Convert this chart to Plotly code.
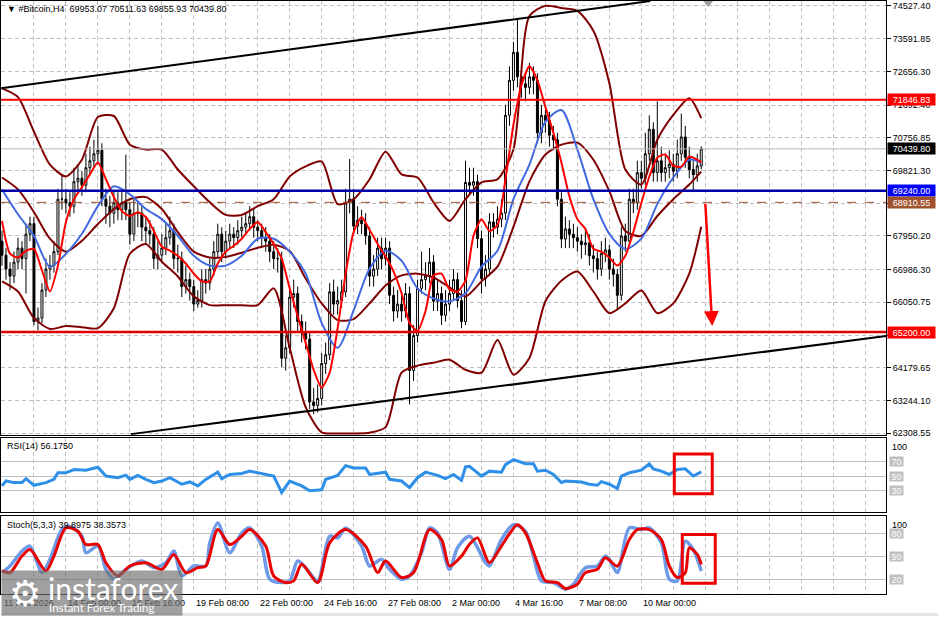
import plotly.graph_objects as go

# ---------------- DATA ----------------
bars = list(range(176))

opens = [67800, 67400, 67000, 66800, 67200, 67600, 67300, 68000,
         68300, 65500, 65600, 66400, 67000, 67100, 67500, 69000,
         69000, 68900, 68800, 69500, 69600, 69400, 69900, 70100,
         70300, 70400, 69000, 68800, 68600, 68900, 68700, 68900,
         68700, 68000, 68600, 68600, 68200, 68100, 68000, 67300,
         67400, 67600, 67900, 68100, 67300, 67300, 66500, 66700,
         66500, 66000, 66100, 66700, 66600, 67000, 67500, 68000,
         67500, 67800, 68000, 67900, 68100, 68200, 68300, 68500,
         68200, 68100, 67900, 67800, 67500, 67300, 67300, 64450,
         64750, 66200, 66300, 65500, 65200, 65000, 63200, 63100,
         63300, 64300, 64550, 66350, 66000, 66100, 66350, 68900,
         69000, 68230, 68400, 68300, 67950, 66800, 67000, 67600,
         67300, 67600, 66250, 65800, 66000, 65800, 66300, 64100,
         65100, 66450, 66700, 66800, 67200, 66080, 66300, 65680,
         66000, 66300, 66700, 66100, 65500, 69480, 69400, 69500,
         67870, 66730, 67000, 68350, 68200, 68430, 68600, 71400,
         72400, 73200, 72500, 72300, 72200, 72500, 72400, 70900,
         71400, 71250, 70830, 70700, 69000, 67860, 68150, 68000,
         67900, 67800, 67700, 67750, 67380, 67300, 67000, 67450,
         67550, 67000, 66850, 66250, 67950, 67800, 69000, 68900,
         69760, 69600, 70300, 71000, 69760, 70100, 69760, 69900,
         70000, 69800, 70300, 70780, 70200, 69850, 69700, 69953.07]

highs = [68100, 67600, 67200, 67500, 67900, 67800, 68300, 68500,
         68500, 65900, 66600, 67300, 67400, 67800, 69300, 69700,
         69300, 69200, 69900, 70000, 69800, 70300, 70500, 70700,
         71100, 70600, 69300, 69100, 69200, 69200, 69300, 70270,
         68900, 69000, 68900, 68800, 68500, 68400, 68200, 67800,
         68000, 68300, 68500, 68300, 67700, 67500, 67100, 66900,
         66700, 66400, 67000, 67000, 67300, 67800, 68300, 68200,
         68100, 68300, 68200, 68400, 68500, 68600, 68800, 68700,
         68400, 68300, 68200, 68000, 67800, 67600, 67500, 65100,
         66500, 66700, 66500, 65700, 65500, 65200, 63600, 63700,
         64600, 64900, 66600, 66700, 66500, 66700, 69300, 70150,
         69300, 68800, 68700, 68600, 68200, 67400, 67900, 67900,
         67900, 67800, 66500, 66400, 66300, 66600, 66500, 65400,
         66700, 67500, 67200, 67600, 67400, 66700, 66500, 66400,
         66700, 67000, 66900, 66400, 70100, 69900, 69900, 69700,
         68100, 67400, 68600, 68600, 68800, 69000, 71700, 72800,
         73500, 74190, 72900, 72600, 72900, 72800, 72600, 71700,
         71700, 71500, 71100, 70900, 69200, 68500, 68400, 68300,
         68200, 68000, 68100, 68000, 67700, 67500, 67800, 67900,
         67700, 67300, 67000, 68200, 68300, 69300, 69300, 70100,
         70100, 70900, 71400, 71200, 71800, 70500, 70300, 70400,
         70300, 70700, 71450, 71100, 70500, 70100, 70300, 70511.63]

lows = [67100, 66700, 66400, 66600, 67000, 67000, 66300, 67800,
        65400, 65250, 65450, 66200, 66700, 66900, 67400, 68700,
        68600, 68500, 68600, 69200, 69100, 69200, 69700, 69900,
        70000, 68800, 68300, 68200, 68300, 68400, 68400, 68400,
        67700, 67800, 68200, 67800, 67700, 67700, 67000, 67000,
        67200, 67400, 67700, 67000, 66900, 66200, 66300, 66100,
        65800, 65900, 65900, 66300, 66400, 66800, 67300, 67200,
        67300, 67600, 67600, 67700, 67900, 68000, 68100, 67900,
        67800, 67600, 67500, 67200, 67000, 66900, 64200, 64100,
        64600, 65900, 65200, 64900, 64700, 63000, 62850, 62900,
        63100, 64000, 64400, 65700, 65700, 65900, 66200, 68600,
        68000, 68000, 68000, 67700, 66500, 66500, 66800, 67000,
        67100, 66000, 65500, 65600, 65500, 65600, 63130, 63800,
        64900, 66300, 66400, 66600, 65800, 65800, 65400, 65500,
        65800, 66100, 65900, 65310, 65400, 69100, 69100, 67600,
        66300, 66500, 66800, 67900, 68000, 68200, 68400, 71100,
        72100, 72200, 71900, 71800, 72000, 72000, 70600, 70600,
        70900, 70500, 70400, 68800, 67600, 67600, 67600, 67600,
        67500, 67300, 67400, 67100, 66900, 66700, 66800, 67200,
        66700, 66500, 65820, 66100, 67500, 67700, 68600, 68700,
        69300, 69400, 70100, 69500, 69500, 69500, 69500, 69600,
        69500, 69600, 70100, 69900, 69600, 69200, 69500, 69855.93]

closes = [67400, 67000, 66800, 67200, 67600, 67300, 68000, 68300,
          65500, 65600, 66400, 67000, 67100, 67500, 69000, 69000,
          68900, 68800, 69500, 69600, 69400, 69900, 70100, 70300,
          70400, 69000, 68800, 68600, 68900, 68700, 68900, 68700,
          68000, 68600, 68600, 68200, 68100, 68000, 67300, 67400,
          67600, 67900, 68100, 67300, 67300, 66500, 66700, 66500,
          66000, 66100, 66700, 66600, 67000, 67500, 68000, 67500,
          67800, 68000, 67900, 68100, 68200, 68300, 68500, 68200,
          68100, 67900, 67800, 67500, 67300, 67300, 64450, 64750,
          66200, 66300, 65500, 65200, 65000, 63200, 63100, 63300,
          64300, 64550, 66350, 66000, 66100, 66350, 68900, 69000,
          68230, 68400, 68300, 67950, 66800, 67000, 67600, 67300,
          67600, 66250, 65800, 66000, 65800, 66300, 64100, 65100,
          66450, 66700, 66800, 67200, 66080, 66300, 65680, 66000,
          66300, 66700, 66100, 65500, 69480, 69400, 69500, 67870,
          66730, 67000, 68350, 68200, 68430, 68600, 71400, 72400,
          73200, 72500, 72300, 72200, 72500, 72400, 70900, 71400,
          71250, 70830, 70700, 69000, 67860, 68150, 68000, 67900,
          67800, 67700, 67750, 67380, 67300, 67000, 67450, 67550,
          67000, 66850, 66250, 67950, 67800, 69000, 68900, 69760,
          69600, 70300, 71000, 69760, 70100, 69760, 69900, 70000,
          69800, 70300, 70780, 70200, 69850, 69700, 69953.07, 70439.80]

# indicator samples (every 4th bar + last bar)
ind_bars = list(range(0, 176, 4)) + [175]
bb_upper = [72170, 71920, 70930, 69990, 69650, 70130, 71350, 71380, 70560, 70420,
            70420, 69850, 69370, 68910, 68550, 68550, 68800, 69000, 69650, 69940,
            70080, 68860, 69000, 69570, 70360, 69710, 69620, 68910, 68380, 69000,
            69480, 69570, 70420, 74240, 74530, 74470, 74390, 73820, 72320, 69850,
            69420, 70700, 71410, 71890, 71320]
bb_middle = [69620, 69280, 68630, 67870, 67500, 67810, 68290, 68720, 69000, 69060,
             68720, 68060, 67500, 67330, 67350, 67470, 67610, 67700, 67520, 66730,
             66020, 65540, 65570, 66020, 66530, 66820, 66870, 66760, 66480, 66220,
             66650, 67070, 68210, 69510, 70280, 70560, 70620, 70130, 69230, 68090,
             67950, 68520, 69000, 69420, 69790]
bb_lower = [66650, 66360, 65600, 65290, 65370, 65340, 65310, 65880, 67440, 67720,
            67210, 66790, 66220, 65970, 65970, 65970, 65970, 66450, 64750, 63050,
            62330, 62300, 62300, 62320, 62480, 64040, 64240, 64320, 64410, 64120,
            64040, 64970, 63980, 64460, 66080, 66670, 66930, 66360, 65740, 66020,
            66390, 65740, 66020, 66870, 68210]
ma_slow = [69280, 68570, 67950, 67070, 67440, 68010, 68800, 69370, 69140, 68720,
           68430, 67950, 67380, 67100, 67100, 67380, 67870, 67870, 67500, 66870,
           65460, 64750, 65820, 67010, 67525, 67240, 66450, 66160, 66080, 66310,
           67070, 67525, 69000, 69990, 71210, 71550, 70420, 69000, 68010, 67580,
           67870, 68860, 69620, 70130, 70050]

ma_fast_bars = list(range(0, 176, 2)) + [175]
ma_fast = [68375, 67440, 67330, 67525, 67580, 66960, 66360, 67100, 68350, 69000,
           69340, 69710, 70050, 69570, 69060, 68660, 68520, 68630, 68490, 68090,
           67640, 67530, 67380, 67160, 66870, 66650, 66650, 67160, 67500, 67670,
           67870, 68150, 68350, 68060, 67720, 67300, 66450, 65650, 64890, 64120,
           63610, 64040, 65310, 66870, 68060, 68490, 68120, 67720, 67360, 66930,
           66310, 65460, 65230, 65800, 66820, 66870, 66420, 66360, 66670, 67950,
           68430, 68090, 68260, 69570, 71130, 72260, 72800, 72400, 71640, 70900,
           70050, 69080, 68430, 68150, 67580, 67500, 67330, 67100, 67380, 68060,
           68890, 69650, 70190, 70280, 69960, 69930, 70220, 70130, 70050]

rsi_bars = [0, 1, 3, 5, 6, 8, 11, 13, 14, 16, 18, 21, 24, 26, 29, 31, 32, 34, 36, 38,
            40, 42, 45, 47, 49, 51, 54, 55, 57, 60, 62, 66, 68, 70, 72, 75, 77, 80, 81, 84,
            86, 88, 91, 92, 96, 97, 100, 102, 104, 106, 109, 111, 113, 115, 116, 117, 120, 122, 125, 126,
            128, 131, 133, 134, 136, 138, 140, 141, 145, 147, 149, 150, 152, 154, 155, 157, 160, 162, 163, 165,
            167, 169, 171, 173, 175]
rsi_vals = [36.8, 43.6, 41.4, 41.4, 46.8, 37.7, 41.4, 45.9, 55.0, 55.0, 59.5, 58.6, 62.7, 50.5, 48.2, 51.8, 45.9, 51.4, 45.9, 41.4,
            43.6, 48.2, 39.1, 42.3, 36.8, 45.9, 55.9, 46.8, 52.7, 54.1, 57.3, 52.7, 50.5, 27.7, 43.6, 36.8, 30.0, 31.4, 45.9, 51.4,
            65.0, 61.8, 61.8, 52.7, 55.9, 45.9, 43.6, 34.5, 48.2, 55.9, 51.4, 46.8, 52.7, 44.5, 63.2, 64.0, 50.5, 57.3, 55.9, 66.4,
            73.2, 67.7, 67.7, 57.3, 58.6, 52.7, 41.4, 43.6, 42.3, 39.1, 37.7, 42.7, 39.1, 33.2, 50.5, 55.0, 58.6, 67.3, 60.5, 57.3,
            52.7, 59.5, 60.5, 50.5, 56.2]

stoch_k_bars = [0, 2, 5, 7, 10, 12, 15, 17, 20, 21, 24, 26, 28, 31, 35, 38, 41, 43, 45, 48,
                51, 52, 54, 57, 60, 62, 65, 67, 70, 72, 74, 76, 79, 82, 84, 86, 90, 92, 95, 97,
                100, 102, 105, 107, 109, 112, 114, 117, 121, 122, 125, 128, 131, 133, 135, 138, 141, 143, 146, 149,
                151, 152, 154, 157, 160, 162, 165, 167, 169, 171, 173, 175]
stoch_k_vals = [28.7, 37.4, 57.0, 63.5, 28.7, 46.1, 85.2, 89.6, 76.5, 54.8, 63.5, 33.0, 20.0, 33.0, 43.9, 35.2, 41.7, 57.0, 24.3, 37.4,
                37.4, 67.8, 93.9, 54.8, 80.9, 87.4, 63.5, 20.0, 15.6, 17.8, 43.9, 35.2, 17.8, 76.5, 74.3, 87.4, 63.5, 37.4, 46.1, 33.0,
                20.0, 24.3, 54.8, 87.4, 80.9, 33.0, 61.3, 76.5, 41.7, 37.4, 72.2, 91.7, 83.0, 50.4, 17.8, 15.6, 7.0, 13.5, 35.2, 37.4,
                50.4, 46.1, 28.7, 87.4, 85.2, 87.4, 67.8, 20.0, 17.8, 70.0, 59.1, 30.9]

stoch_d_bars = [0, 2, 5, 7, 11, 13, 16, 19, 21, 24, 26, 29, 32, 36, 40, 43, 46, 49, 51, 54,
                57, 60, 62, 66, 68, 71, 73, 75, 79, 82, 86, 91, 94, 96, 100, 103, 107, 110, 112, 115,
                117, 119, 122, 125, 129, 131, 134, 136, 139, 141, 144, 146, 149, 151, 154, 157, 159, 162, 165, 167,
                169, 171, 172, 174, 175]
stoch_d_vals = [30.9, 28.7, 50.4, 59.1, 30.9, 50.4, 87.4, 83.0, 65.7, 65.7, 41.7, 24.3, 37.4, 41.7, 33.0, 52.6, 28.7, 35.2, 37.4, 85.2,
                65.7, 76.5, 85.2, 63.5, 24.3, 15.6, 17.8, 39.6, 15.6, 67.8, 85.2, 63.5, 28.7, 43.9, 22.2, 28.7, 85.2, 72.2, 37.4, 50.4,
                66.0, 74.3, 41.7, 63.5, 91.7, 80.9, 41.7, 17.8, 15.6, 7.8, 13.5, 28.7, 33.0, 48.3, 37.4, 72.2, 85.2, 85.2, 72.2, 37.4,
                22.2, 28.7, 61.3, 52.6, 39.6]

price_ticks = [74527.40, 73591.85, 72656.30, 71692.40, 70756.85, 69821.30, 68885.75,
               67950.20, 66986.30, 66050.75, 65115.20, 64179.65, 63244.10, 62308.55]

level_resistance = 71846.83
level_blue = 69240.00
level_dashed = 68910.55
level_support = 65200.00
last_price = 70439.80

trend_upper_bars = [-0.25, 162.25]
trend_upper_prices = [72174, 74669]
trend_lower_bars = [32.25, 221.25]
trend_lower_prices = [62280, 65087]

arrow_bars = [176.0, 177.75]
arrow_prices = [68914, 65370]

rsi_box_bars = [168.25, 177.75]
rsi_box_vals = [26.0, 81.0]
stoch_box_bars = [170.25, 178.5]
stoch_box_vals = [14.8, 78.7]

x_tick_bars = [0, 16, 32, 48, 64, 80, 96, 112, 128, 144, 160]
x_tick_labels = ["11 Feb 2026", "14 Feb 00:00", "16 Feb 16:00", "19 Feb 08:00", "22 Feb 00:00",
                 "24 Feb 16:00", "27 Feb 08:00", "2 Mar 00:00", "4 Mar 16:00", "7 Mar 08:00",
                 "10 Mar 00:00"]

title_text = "#Bitcoin,H4  69953.07 70511.63 69855.93 70439.80"
rsi_title = "RSI(14) 56.1750"
stoch_title = "Stoch(5,3,3) 39.8975 38.3573"

# ---------------- FIGURE ----------------
W, H = 938, 619
def fx(px): return px / W
def fy(py): return 1 - py / H

FONT = "Liberation Sans, Arial, sans-serif"
GRID = "#c0c0c0"
DASH = "4px,3px"
XR = [-0.25, 221.25]

fig = go.Figure()

fig.add_trace(go.Candlestick(
    x=bars, open=opens, high=highs, low=lows, close=closes,
    increasing=dict(line=dict(color="black", width=1), fillcolor="white"),
    decreasing=dict(line=dict(color="black", width=1), fillcolor="black"),
    whiskerwidth=0, xaxis="x", yaxis="y", hoverinfo="skip", showlegend=False))

for vals in (bb_upper, bb_middle, bb_lower):
    fig.add_trace(go.Scatter(x=ind_bars, y=vals, mode="lines",
                             line=dict(color="#800000", width=2, shape="spline", smoothing=0.7),
                             xaxis="x", yaxis="y", hoverinfo="skip", showlegend=False))
fig.add_trace(go.Scatter(x=ind_bars, y=ma_slow, mode="lines",
                         line=dict(color="#4169e1", width=2, shape="spline", smoothing=0.8),
                         xaxis="x", yaxis="y", hoverinfo="skip", showlegend=False))
fig.add_trace(go.Scatter(x=ma_fast_bars, y=ma_fast, mode="lines",
                         line=dict(color="#ff0000", width=2, shape="spline", smoothing=0.6),
                         xaxis="x", yaxis="y", hoverinfo="skip", showlegend=False))

fig.add_trace(go.Scatter(x=rsi_bars, y=rsi_vals, mode="lines",
                         line=dict(color="#2d8fe8", width=3),
                         xaxis="x2", yaxis="y2", hoverinfo="skip", showlegend=False))

fig.add_trace(go.Scatter(x=stoch_k_bars, y=stoch_k_vals, mode="lines",
                         line=dict(color="#6f9ae8", width=3.5, shape="spline", smoothing=0.8),
                         xaxis="x3", yaxis="y3", hoverinfo="skip", showlegend=False))
fig.add_trace(go.Scatter(x=stoch_d_bars, y=stoch_d_vals, mode="lines",
                         line=dict(color="#e80000", width=3, shape="spline", smoothing=0.8),
                         xaxis="x3", yaxis="y3", hoverinfo="skip", showlegend=False))

shapes = []
def hline(y, color, width, dash="solid"):
    shapes.append(dict(type="line", xref="paper", yref="y", x0=0, x1=fx(886), y0=y, y1=y,
                       line=dict(color=color, width=width, dash=dash), layer="above"))

hline(last_price, "#b4b4b4", 1)
hline(level_resistance, "#ff0000", 2)
hline(level_blue, "#0000a8", 2.5)
hline(level_dashed, "#a0522d", 1, "dash")
hline(level_support, "#e00000", 2.5)

shapes.append(dict(type="line", xref="x", yref="y", x0=trend_upper_bars[0], x1=trend_upper_bars[1],
                   y0=trend_upper_prices[0], y1=trend_upper_prices[1], line=dict(color="black", width=2)))
shapes.append(dict(type="line", xref="x", yref="y", x0=trend_lower_bars[0], x1=trend_lower_bars[1],
                   y0=trend_lower_prices[0], y1=trend_lower_prices[1], line=dict(color="black", width=2)))

shapes.append(dict(type="rect", xref="x2", yref="y2", x0=rsi_box_bars[0], x1=rsi_box_bars[1],
                   y0=rsi_box_vals[0], y1=rsi_box_vals[1], line=dict(color="#ee0000", width=3)))
shapes.append(dict(type="rect", xref="x3", yref="y3", x0=stoch_box_bars[0], x1=stoch_box_bars[1],
                   y0=stoch_box_vals[0], y1=stoch_box_vals[1], line=dict(color="#ee0000", width=3)))

# chart-shift marker
shapes.append(dict(type="path", xref="paper", yref="paper",
                   path=f"M {fx(703)},{fy(0)} L {fx(713)},{fy(0)} L {fx(708)},{fy(6)} Z",
                   fillcolor="#a0a0a0", line=dict(width=0)))
# bottom strip
shapes.append(dict(type="rect", xref="paper", yref="paper", x0=0, x1=1, y0=0, y1=fy(616),
                   fillcolor="#e4e4e4", line=dict(width=0), layer="below"))

ann = []
ann.append(dict(xref="paper", yref="paper", x=fx(4), y=fy(8), xanchor="left", yanchor="middle",
                text="▼ " + title_text, showarrow=False, font=dict(size=9, color="black", family=FONT)))
ann.append(dict(xref="paper", yref="paper", x=fx(4), y=fy(448), xanchor="left", yanchor="middle",
                text=rsi_title, showarrow=False, font=dict(size=9, color="black", family=FONT)))
ann.append(dict(xref="paper", yref="paper", x=fx(4), y=fy(527), xanchor="left", yanchor="middle",
                text=stoch_title, showarrow=False, font=dict(size=9, color="black", family=FONT)))

def price_label(y, bg, txt):
    ann.append(dict(xref="paper", yref="y", x=fx(887), y=y, xanchor="left", yanchor="middle",
                    text=txt, showarrow=False, bgcolor=bg, width=47, height=11, borderpad=0,
                    align="center", font=dict(size=9, color="white", family=FONT)))

price_label(level_resistance, "#ff0000", f"{level_resistance:.2f}")
price_label(last_price, "#000000", f"{last_price:.2f}")
price_label(level_blue, "#0000ff", f"{level_blue:.2f}")
price_label(level_dashed, "#a0522d", f"{level_dashed:.2f}")
price_label(level_support, "#ff0000", f"{level_support:.2f}")

def level_label(yref, val, txt):
    ann.append(dict(xref="paper", yref=yref, x=fx(889), y=val, xanchor="left", yanchor="middle",
                    text=txt, showarrow=False, bgcolor="#c0c0c0", borderpad=0, width=13, height=9,
                    font=dict(size=9, color="white", family=FONT)))

for yr in ("y2", "y3"):
    ann.append(dict(xref="paper", yref=yr, x=fx(890), y=100, xanchor="left", yanchor="top", text="100",
                    showarrow=False, font=dict(size=9, color="black", family=FONT)))
    ann.append(dict(xref="paper", yref=yr, x=fx(890), y=0, xanchor="left", yanchor="bottom", text="0",
                    showarrow=False, font=dict(size=9, color="black", family=FONT)))
for v in (70, 50, 30):
    level_label("y2", v, str(v))
for v in (80, 50, 20):
    level_label("y3", v, str(v))

for b, t in zip(x_tick_bars, x_tick_labels):
    ann.append(dict(xref="x3", yref="paper", x=b, y=fy(606), xanchor="left", yanchor="middle",
                    text=t, showarrow=False, font=dict(size=9, color="black", family=FONT)))

# arrow
ann.append(dict(xref="x", yref="y", axref="x", ayref="y", x=arrow_bars[1], y=arrow_prices[1],
                ax=arrow_bars[0], ay=arrow_prices[0], text="", showarrow=True, arrowhead=2,
                arrowsize=1.2, arrowwidth=2.5, arrowcolor="#ff0000"))

# watermark
ann.append(dict(xref="paper", yref="paper", x=0, y=0, xanchor="left", yanchor="bottom", text=" ",
                showarrow=False, width=180, height=44, borderpad=0, bgcolor="rgba(115,115,115,0.68)"))
ann.append(dict(xref="paper", yref="paper", x=fx(24), y=fy(596), xanchor="center", yanchor="middle",
                text="⚙", showarrow=False, font=dict(size=36, color="white", family="DejaVu Sans")))
ann.append(dict(xref="paper", yref="paper", x=fx(45), y=fy(591), xanchor="left", yanchor="middle",
                text="instaforex", showarrow=False, font=dict(size=30, color="white", family="Lato")))
ann.append(dict(xref="paper", yref="paper", x=fx(46), y=fy(610), xanchor="left", yanchor="middle",
                text="Instant Forex Trading", showarrow=False,
                font=dict(size=11.5, color="white", family="Lato")))

xbase = dict(domain=[0, fx(886)], range=XR, showticklabels=False, ticks="", tickmode="linear",
             tick0=0, dtick=8, showgrid=True, gridcolor=GRID, griddash=DASH, gridwidth=1,
             showline=True, linecolor="black", linewidth=1, mirror=True, zeroline=False)

fig.update_layout(
    width=W, height=H, margin=dict(l=0, r=0, t=0, b=0),
    paper_bgcolor="white", plot_bgcolor="white", showlegend=False, hovermode=False,
    font=dict(family=FONT, size=9, color="black"),
    xaxis=dict(xbase, anchor="y", rangeslider=dict(visible=False)),
    xaxis2=dict(xbase, anchor="y2", matches="x"),
    xaxis3=dict(xbase, anchor="y3", matches="x"),
    yaxis=dict(domain=[fy(437), 1], range=[62250, 74669.5], anchor="x", side="right",
               tickmode="array", tickvals=price_ticks, ticktext=[f"{v:.2f}" for v in price_ticks],
               ticks="outside", ticklen=4, tickcolor="black", tickfont=dict(size=9, color="black"),
               showgrid=True, gridcolor=GRID, griddash=DASH, showline=True, mirror=True,
               linecolor="black", linewidth=1, zeroline=False),
    yaxis2=dict(domain=[fy(514), fy(440)], range=[1.03, 103.1], anchor="x2", side="right",
                tickmode="array", tickvals=[30, 50, 70], showticklabels=False, ticks="",
                showgrid=True, gridcolor=GRID, griddash="solid", showline=True, mirror=True,
                linecolor="black", linewidth=1, zeroline=False),
    yaxis3=dict(domain=[fy(597), fy(518)], range=[0.44, 103.5], anchor="x3", side="right",
                tickmode="array", tickvals=[20, 50, 80], showticklabels=False, ticks="",
                showgrid=True, gridcolor=GRID, griddash="solid", showline=True, mirror=True,
                linecolor="black", linewidth=1, zeroline=False),
    shapes=shapes, annotations=ann,
)

fig.write_html("out.html", config={"displayModeBar": False},
               post_script="document.body.style.margin='0px';document.body.style.overflow='hidden';")
